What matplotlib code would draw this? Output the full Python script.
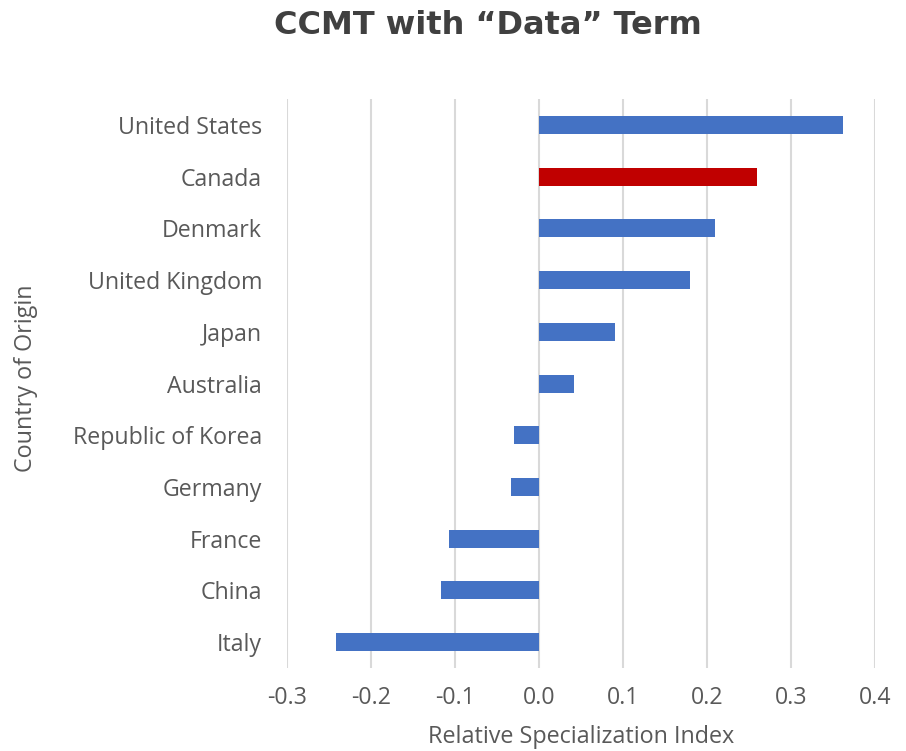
import matplotlib.pyplot as plt

countries = ['United States', 'Canada', 'Denmark', 'United Kingdom', 'Japan',
             'Australia', 'Republic of Korea', 'Germany', 'France', 'China', 'Italy']
rsi = [0.362, 0.26, 0.21, 0.18, 0.091, 0.042, -0.030, -0.033, -0.107, -0.117, -0.242]
highlight = 'Canada'
xticks = [-0.3, -0.2, -0.1, 0.0, 0.1, 0.2, 0.3, 0.4]

plt.rcParams['font.family'] = ['Open Sans', 'DejaVu Sans']
grey = '#595959'

fig = plt.figure(figsize=(9.06, 7.51), dpi=100)
ax = fig.add_axes([0.3168, 0.1105, 0.649, 0.7575])

colors = ['#C00000' if c == highlight else '#4472C4' for c in countries]
ypos = list(range(len(countries)))
ax.barh(ypos, rsi, height=0.35, color=colors, zorder=3)

ax.set_ylim(len(countries) - 0.5, -0.5)
ax.set_xlim(-0.3, 0.4)
ax.set_xticks(xticks)
ax.set_xticklabels(['%.1f' % t for t in xticks])
ax.set_yticks(ypos)
ax.set_yticklabels(countries)

ax.grid(axis='x', color='#D9D9D9', linewidth=1.5, zorder=0)
for s in ax.spines.values():
    s.set_visible(False)
ax.tick_params(axis='both', length=0, labelsize=16.7, labelcolor=grey)
ax.tick_params(axis='y', pad=18)
ax.tick_params(axis='x', pad=13)

ax.set_xlabel('Relative Specialization Index', fontsize=16.8, color=grey, va='center')
ax.xaxis.set_label_coords(0.5, -0.121)
ax.set_ylabel('Country of Origin', fontsize=16.8, color=grey, va='center')
ax.yaxis.set_label_coords(-0.444, 0.51)

fig.text(0.538, 0.966, 'CCMT with \u201cData\u201d Term', ha='center', va='center',
         fontsize=23, fontweight='bold', color='#404040', family=['DejaVu Sans'])

fig.savefig('out.png', dpi=100)
